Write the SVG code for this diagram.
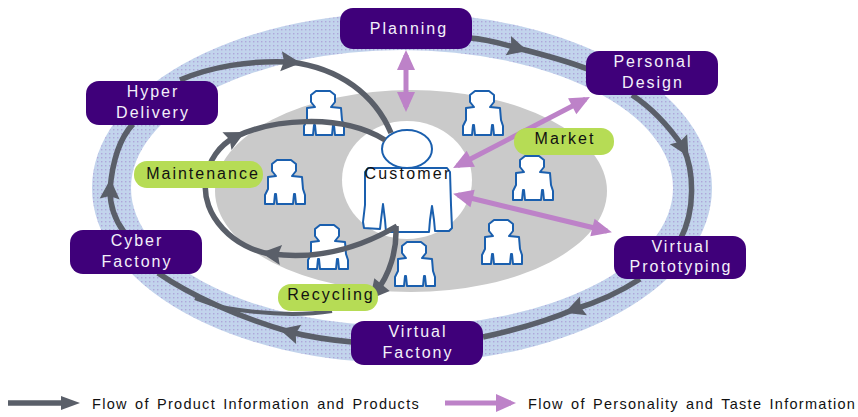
<svg xmlns="http://www.w3.org/2000/svg" width="858" height="417" viewBox="0 0 858 417">
<style>
text{font-family:"Liberation Sans",Arial,sans-serif;font-size:16px;letter-spacing:2px;text-anchor:middle}
.p rect{fill:#3f007a;stroke:none}
.p text{fill:#f4f0fa}
.g rect{fill:#b6dc55}
.g text{fill:#111}
.fig{fill:#fff;stroke:#1a5fae;stroke-width:2;stroke-linejoin:round}
.flow{fill:none;stroke:#5a5f69;stroke-width:5.5}
.flowm{marker-mid:url(#ah)}
.taste{fill:none;stroke:#bd82c8;stroke-width:5}
.legend{font-size:14.5px;letter-spacing:1.28px;word-spacing:2px;text-anchor:start;fill:#111}
</style>
<defs>
<pattern id="band" width="4" height="4" patternUnits="userSpaceOnUse"><rect width="4" height="4" fill="#c2d4ec"/><rect x="1" y="1" width="1.4" height="1.4" fill="#aea6da"/></pattern>
<marker id="ah" markerUnits="userSpaceOnUse" markerWidth="26" markerHeight="26" refX="10" refY="12" orient="auto" overflow="visible"><path d="M1,2 L21,12 L1,22 L4,12 Z" fill="#5a5f69"/></marker>
<marker id="ae" markerUnits="userSpaceOnUse" markerWidth="24" markerHeight="24" refX="12" refY="11" orient="auto" overflow="visible"><path d="M1,1 L20,11 L1,21 Z" fill="#5a5f69"/></marker>
<marker id="al" markerUnits="userSpaceOnUse" markerWidth="24" markerHeight="18" refX="6" refY="8" orient="auto" overflow="visible"><path d="M1,1 L20,8 L1,15 Z" fill="#5a5f69"/></marker>
<marker id="am" markerUnits="userSpaceOnUse" markerWidth="24" markerHeight="20" refX="15" refY="9" orient="auto-start-reverse" overflow="visible"><path d="M0,0 L20,9 L0,18 Z" fill="#bd82c8"/></marker>
<path id="person" class="fig" d="M12,1 L26,1 L31,5 L31,12 L27,17 L37,18 L38,30 L40,36 L40,45 L31,45 L30,35 L29,35 L28,45 L12,45 L11,35 L10,35 L9,45 L0,45 L0,36 L3,30 L3,18 L11,17 L7,12 L7,5 Z"/>
</defs>
<g id="band-ring"><path fill="url(#band)" fill-rule="evenodd" d="M92,188 A310,175 0 1 1 712,188 A310,175 0 1 1 92,188 Z M131,188 A271,138 0 1 0 673,188 A271,138 0 1 0 131,188 Z"/></g>
<ellipse id="core" cx="411" cy="191" rx="196" ry="101" fill="#cacaca"/>
<ellipse cx="407" cy="180" rx="65" ry="59" fill="#fff"/>
<g id="person-1"><use href="#person" x="304" y="90"/></g>
<g id="person-2"><use href="#person" x="463" y="90"/></g>
<g id="person-3"><use href="#person" x="513" y="155"/></g>
<g id="person-4"><use href="#person" x="265" y="159"/></g>
<g id="person-5"><use href="#person" x="308" y="224"/></g>
<g id="person-6"><use href="#person" x="395" y="241"/></g>
<g id="person-7"><use href="#person" x="482" y="219"/></g>
<g id="customer">
<ellipse class="fig" cx="407" cy="149" rx="25" ry="19"/>
<path class="fig" d="M368,168 L447,168 L450,172 L451,205 L452,228 L449,231 L435,231 L434,220 L432,206 L430,220 L429,232 L386,232 L385,220 L383,204 L381,220 L380,229 L364,228 L363,222 L365,205 L365,172 Z"/>
<text x="408" y="179" fill="#111" style="letter-spacing:2.2px">Customer</text>
</g>
<g id="connectors">
<path class="flow flowm" d="M470,38 C485,39 500,43 517,48 C545,55 570,62 590,70"/>
<path class="flow flowm" d="M632,95 C655,110 670,128 683,147 C694,170 696,210 680,240"/>
<path class="flow flowm" d="M640,279 C620,292 598,302 575,309 C545,322 515,330 483,337"/>
<path class="flow flowm" d="M352,342 C330,340 310,337 290,332 C240,318 190,295 158,273"/>
<path class="flow flowm" d="M124,232 C115,220 110,205 110,190 C112,165 118,140 133,124"/>
<path class="flow flowm" d="M180,80 C210,67 250,60 290,62 C340,68 375,95 391,133"/>
<path class="flow flowm" d="M397,226 C360,248 320,260 272,254 C235,250 200,215 206,180"/>
<path class="flow flowm" d="M206,180 C208,160 220,145 235,137 C270,120 340,112 385,140"/>
<path class="flow" marker-end="url(#ae)" d="M396,226 C397,250 390,275 375,293"/>
<path class="flow" style="stroke-width:4" d="M332,311 C300,316 260,314 220,307 L195,298"/>
<path class="taste" marker-start="url(#am)" marker-end="url(#am)" d="M406,55 L406,107"/>
<path class="taste" marker-start="url(#am)" marker-end="url(#am)" d="M457.5,165.7 L585.5,99.3"/>
<path class="taste" marker-start="url(#am)" marker-end="url(#am)" d="M458,195 L607,231"/>
<path class="flow" marker-end="url(#al)" d="M8,403 L66,403"/>
<path class="taste" marker-end="url(#am)" d="M445,403 L511,403"/>
</g>
<g id="planning" class="p"><rect x="340" y="8" width="132" height="41" rx="13"/><text x="409" y="34">Planning</text></g>
<g id="personal-design" class="p"><rect x="586" y="51" width="132" height="44" rx="13"/><text x="653" y="67">Personal</text><text x="653" y="88">Design</text></g>
<g id="hyper-delivery" class="p"><rect x="86" y="81" width="132" height="44" rx="13"/><text x="153" y="97">Hyper</text><text x="153" y="118">Delivery</text></g>
<g id="cyber-factory" class="p"><rect x="70" y="230" width="132" height="44" rx="13"/><text x="137" y="246">Cyber</text><text x="137" y="267">Factony</text></g>
<g id="virtual-factory" class="p"><rect x="351" y="321" width="132" height="44" rx="13"/><text x="418" y="337">Virtual</text><text x="418" y="358">Factony</text></g>
<g id="virtual-prototyping" class="p"><rect x="614" y="236" width="132" height="43" rx="13"/><text x="681" y="252">Virtual</text><text x="681" y="272">Prototyping</text></g>
<g id="maintenance" class="g"><rect x="134" y="161" width="129" height="27" rx="13"/><text x="203" y="179">Maintenance</text></g>
<g id="market" class="g"><rect x="514" y="128" width="100" height="27" rx="13"/><text x="565" y="144">Market</text></g>
<g id="recycling" class="g"><rect x="278" y="284" width="100" height="27" rx="13"/><text x="331" y="300">Recycling</text></g>
<g id="legend"><text class="legend" x="92" y="409">Flow of Product Information and Products</text><text class="legend" x="528" y="409">Flow of Personality and Taste Information</text></g>
</svg>
